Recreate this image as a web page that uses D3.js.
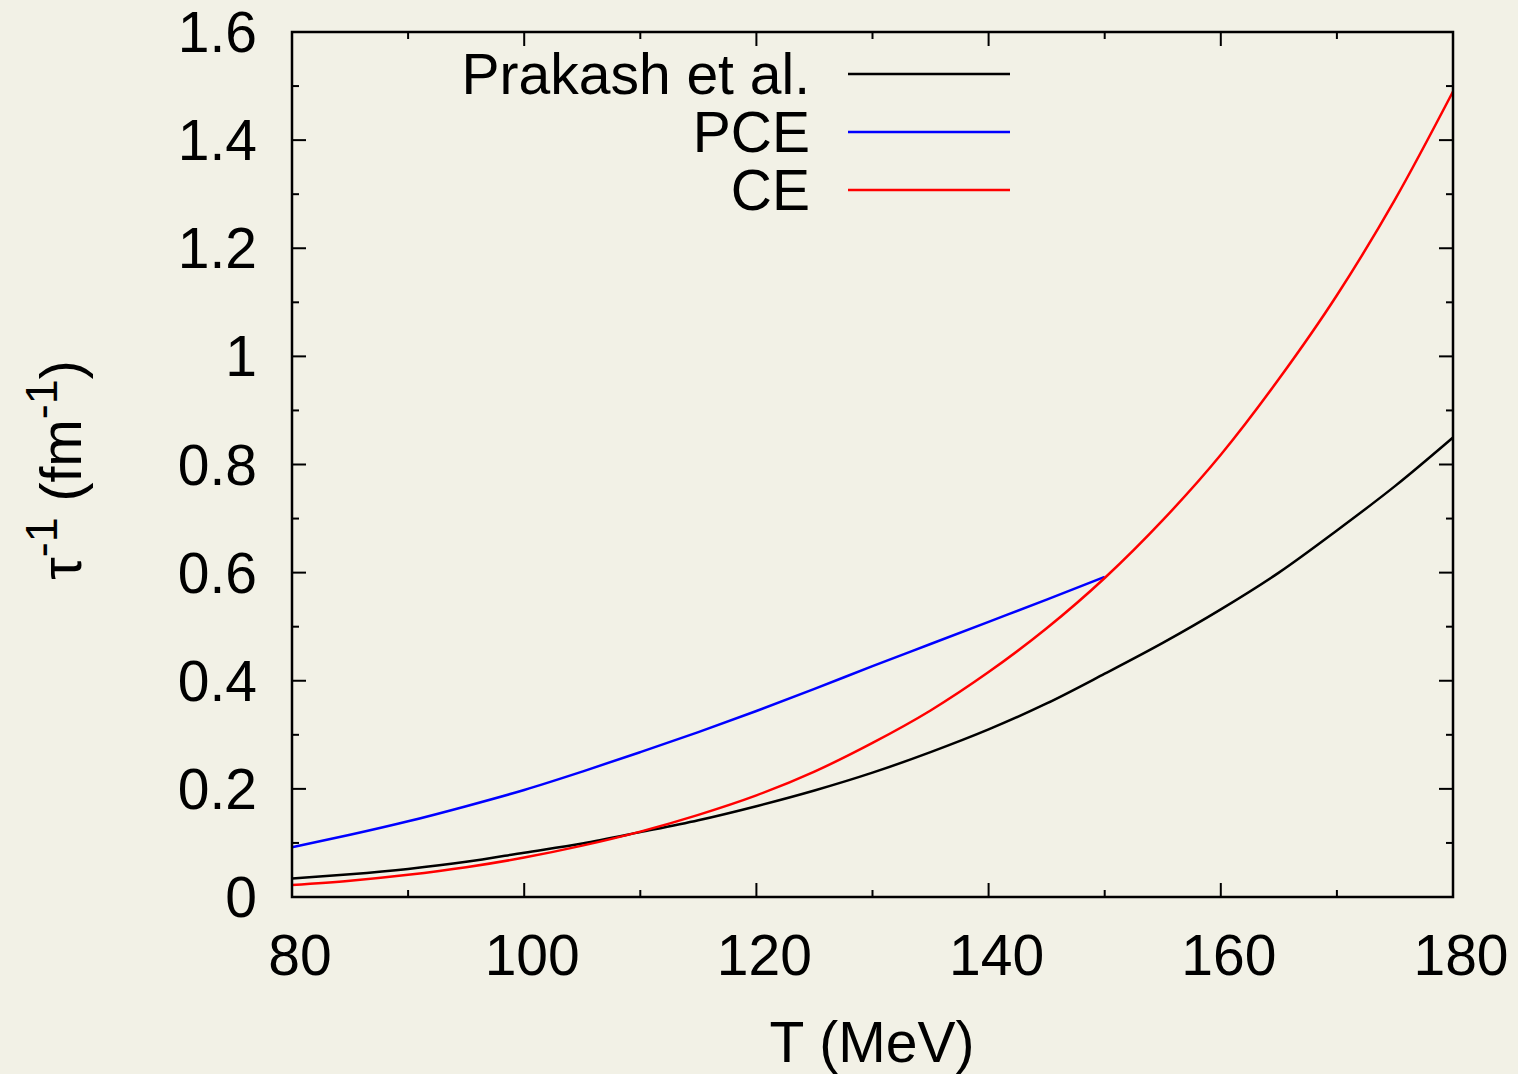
<!DOCTYPE html>
<html>
<head>
<meta charset="utf-8">
<script src="https://cdnjs.cloudflare.com/ajax/libs/d3/7.8.5/d3.min.js"></script>
<style>
  body { margin: 0; background: #f2f1e6; }
  text { font-family: "Liberation Sans", Arial, sans-serif; fill: #000; }
</style>
</head>
<body>
<div class="container"></div>
<script>
// temperatures (MeV)
const T_ALL = [80, 85, 90, 95, 100, 105, 110, 115, 120, 125, 130, 135, 140, 145, 150, 155, 160, 165, 170, 175, 180];
const T_PCE = [80, 85, 90, 95, 100, 105, 110, 115, 120, 125, 130, 135, 140, 145, 150];

// inverse relaxation time (fm^-1)
const PRAKASH = [0.034, 0.042, 0.052, 0.065, 0.082, 0.099, 0.120, 0.142, 0.168, 0.197, 0.230, 0.268, 0.310, 0.358, 0.413, 0.470, 0.532, 0.600, 0.678, 0.760, 0.850];
const PCE = [0.092, 0.115, 0.140, 0.168, 0.198, 0.232, 0.268, 0.305, 0.344, 0.385, 0.427, 0.468, 0.509, 0.550, 0.592];
const CE = [0.022, 0.030, 0.041, 0.055, 0.073, 0.095, 0.121, 0.152, 0.188, 0.232, 0.285, 0.345, 0.416, 0.497, 0.590, 0.697, 0.818, 0.958, 1.113, 1.290, 1.490];

const SERIES_NAMES = ['Prakash et al.', 'PCE', 'CE'];
const SERIES_COLORS = ['#000000', '#0000ff', '#ff0000'];

const X_TICKS = [80, 100, 120, 140, 160, 180];
const X_MINOR = [90, 110, 130, 150, 170];
const Y_TICKS = [0, 0.2, 0.4, 0.6, 0.8, 1, 1.2, 1.4, 1.6];
const Y_MINOR = [0.1, 0.3, 0.5, 0.7, 0.9, 1.1, 1.3, 1.5];

const WIDTH = 1518;
const HEIGHT = 1074;
const LEFT = 292, RIGHT = 1453, TOP = 32, BOTTOM = 897;
const FONT = 57;

const svg = d3.select('.container').append('svg')
    .attr('width', WIDTH)
    .attr('height', HEIGHT);

svg.append('rect')
    .attr('width', WIDTH)
    .attr('height', HEIGHT)
    .attr('fill', '#f2f1e6');

const xScale = d3.scaleLinear().domain([80, 180]).range([LEFT, RIGHT]);
const yScale = d3.scaleLinear().domain([0, 1.6]).range([BOTTOM, TOP]);

// --ticks on all four sides--
const ticks = svg.append('g').attr('stroke', '#000').attr('stroke-width', 2);
[[X_TICKS, 14], [X_MINOR, 7]].forEach(([vals, len]) => {
    vals.forEach(v => {
        ticks.append('line').attr('x1', xScale(v)).attr('x2', xScale(v))
            .attr('y1', BOTTOM).attr('y2', BOTTOM - len);
        ticks.append('line').attr('x1', xScale(v)).attr('x2', xScale(v))
            .attr('y1', TOP).attr('y2', TOP + len);
    });
});
[[Y_TICKS, 14], [Y_MINOR, 7]].forEach(([vals, len]) => {
    vals.forEach(v => {
        ticks.append('line').attr('x1', LEFT).attr('x2', LEFT + len)
            .attr('y1', yScale(v)).attr('y2', yScale(v));
        ticks.append('line').attr('x1', RIGHT).attr('x2', RIGHT - len)
            .attr('y1', yScale(v)).attr('y2', yScale(v));
    });
});

// --tick labels--
svg.selectAll('.xlab').data(X_TICKS).enter().append('text')
    .attr('class', 'xlab')
    .attr('x', d => xScale(d) + 8)
    .attr('y', 975)
    .attr('text-anchor', 'middle')
    .attr('font-size', FONT)
    .text(d => d);

svg.selectAll('.ylab').data(Y_TICKS).enter().append('text')
    .attr('class', 'ylab')
    .attr('x', 257)
    .attr('y', d => yScale(d) + 20)
    .attr('text-anchor', 'end')
    .attr('font-size', FONT)
    .text(d => d3.format('')(d));

// --axis titles--
svg.append('text')
    .attr('x', 872)
    .attr('y', 1062)
    .attr('text-anchor', 'middle')
    .attr('font-size', FONT)
    .text('T (MeV)');

const yTitle = svg.append('text')
    .attr('transform', 'translate(81, 470) rotate(-90)')
    .attr('text-anchor', 'middle')
    .attr('font-size', FONT);
yTitle.append('tspan').text('τ');
yTitle.append('tspan').attr('font-size', 45).attr('dy', -24).text('-1');
yTitle.append('tspan').attr('dy', 24).text(' (fm');
yTitle.append('tspan').attr('font-size', 45).attr('dy', -24).text('-1');
yTitle.append('tspan').attr('dy', 24).text(')');

// --curves--
const line = d3.line()
    .x(d => xScale(d[0]))
    .y(d => yScale(d[1]))
    .curve(d3.curveMonotoneX);

const seriesData = [
    T_ALL.map((t, i) => [t, PRAKASH[i]]),
    T_PCE.map((t, i) => [t, PCE[i]]),
    T_ALL.map((t, i) => [t, CE[i]])
];

svg.append('g').selectAll('path').data(seriesData).enter().append('path')
    .attr('d', d => line(d))
    .attr('fill', 'none')
    .attr('stroke', (d, i) => SERIES_COLORS[i])
    .attr('stroke-width', 2.5);

// --legend--
const legend = svg.append('g');
SERIES_NAMES.forEach((name, i) => {
    const ly = 74 + i * 58;
    legend.append('text')
        .attr('x', 810)
        .attr('y', ly + 20)
        .attr('text-anchor', 'end')
        .attr('font-size', FONT)
        .text(name);
    legend.append('line')
        .attr('x1', 848).attr('x2', 1010)
        .attr('y1', ly).attr('y2', ly)
        .attr('stroke', SERIES_COLORS[i])
        .attr('stroke-width', 2.5);
});

// --frame--
svg.append('rect')
    .attr('x', LEFT).attr('y', TOP)
    .attr('width', RIGHT - LEFT).attr('height', BOTTOM - TOP)
    .attr('fill', 'none')
    .attr('stroke', '#000')
    .attr('stroke-width', 2.5);
</script>
</body>
</html>
